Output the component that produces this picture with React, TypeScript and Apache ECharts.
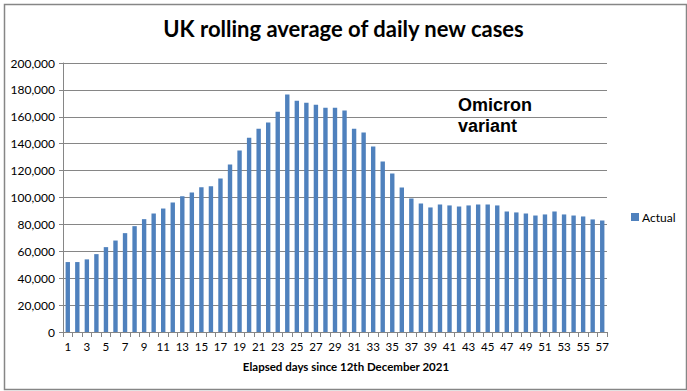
import React, { useEffect, useRef } from "react";
import * as echarts from "echarts";

const days: string[] = Array.from({ length: 57 }, (_, i) => String(i + 1));
const actual: number[] = [
  52000, 52000, 54000, 57900, 63100, 68000, 73500, 78700, 83900, 88100,
  91800, 96300, 101000, 103700, 107700, 108400, 114200, 124500, 134900, 144500,
  151200, 155700, 163800, 176500, 172000, 170500, 169000, 166800, 166800, 164600,
  151200, 148300, 137900, 126700, 117800, 107400, 99200, 95500, 92600, 94800,
  94100, 93300, 94100, 94800, 94800, 94100, 89600, 88900, 88100, 86600,
  87400, 89600, 87400, 86600, 85900, 83700, 82900,
];
const titleText = "UK rolling average of daily new cases";
const xAxisTitle = "Elapsed days since 12th December 2021";
const seriesName = "Actual";
const annotation = "Omicron\nvariant";

export default function App() {
  const ref = useRef<HTMLDivElement>(null);
  useEffect(() => {
    if (!ref.current) return;
    const chart = echarts.init(ref.current, undefined, { renderer: "svg" });
    const font = "Lato, 'Open Sans', sans-serif";
    chart.setOption({
      animation: false,
      backgroundColor: "#ffffff",
      textStyle: { fontFamily: font },
      title: {
        text: titleText,
        left: "center",
        top: 12,
        textStyle: { fontFamily: font, fontSize: 22, fontWeight: "bold", color: "#000" },
      },
      legend: {
        data: [seriesName],
        orient: "vertical",
        left: 626,
        top: 206,
        itemWidth: 8,
        itemHeight: 8,
        itemGap: 4,
        icon: "rect",
        textStyle: { fontFamily: font, fontSize: 12, color: "#000", padding: [0, 0, 0, -2] },
      },
      grid: { left: 63, right: 80, top: 63, bottom: 59, containLabel: false },
      xAxis: {
        type: "category",
        data: days,
        boundaryGap: true,
        axisLine: { lineStyle: { color: "#868686", width: 1 } },
        axisTick: { show: true, interval: 0, length: 5, lineStyle: { color: "#868686" } },
        axisLabel: { interval: 1, color: "#000", fontSize: 11.5, fontFamily: font, margin: 8 },
      },
      yAxis: {
        type: "value",
        min: 0,
        max: 200000,
        interval: 20000,
        axisLine: { show: true, lineStyle: { color: "#868686", width: 1 } },
        axisTick: { show: true, length: 4, lineStyle: { color: "#868686" } },
        splitLine: { lineStyle: { color: "#868686", width: 1 } },
        axisLabel: {
          color: "#000",
          fontSize: 12,
          fontFamily: font,
          margin: 8,
          formatter: (v: number) => v.toLocaleString("en-US"),
        },
      },
      series: [
        {
          name: seriesName,
          type: "bar",
          data: actual,
          barWidth: "46%",
          itemStyle: { color: "#4F81BD" },
        },
      ],
      graphic: [
        {
          type: "rect",
          left: 2,
          top: 2,
          shape: { width: 682, height: 385 },
          style: { fill: "none", stroke: "#868686", lineWidth: 1.5 },
          silent: true,
        },
        {
          type: "text",
          left: 458,
          top: 94,
          style: {
            text: annotation,
            fontFamily: "'Liberation Sans', Arial, sans-serif",
            fontSize: 18,
            fontWeight: "bold",
            fill: "#000",
            lineHeight: 21,
          },
          z: 10,
        },
        {
          type: "text",
          x: 346,
          y: 366,
          style: {
            text: xAxisTitle,
            fontFamily: font,
            fontSize: 11.5,
            fontWeight: "bold",
            fill: "#000",
            align: "center",
            verticalAlign: "middle",
          },
        },
      ],
    });
    return () => chart.dispose();
  }, []);
  return <div ref={ref} style={{ width: 687, height: 391, position: "absolute", left: 0, top: 0 }} />;
}
